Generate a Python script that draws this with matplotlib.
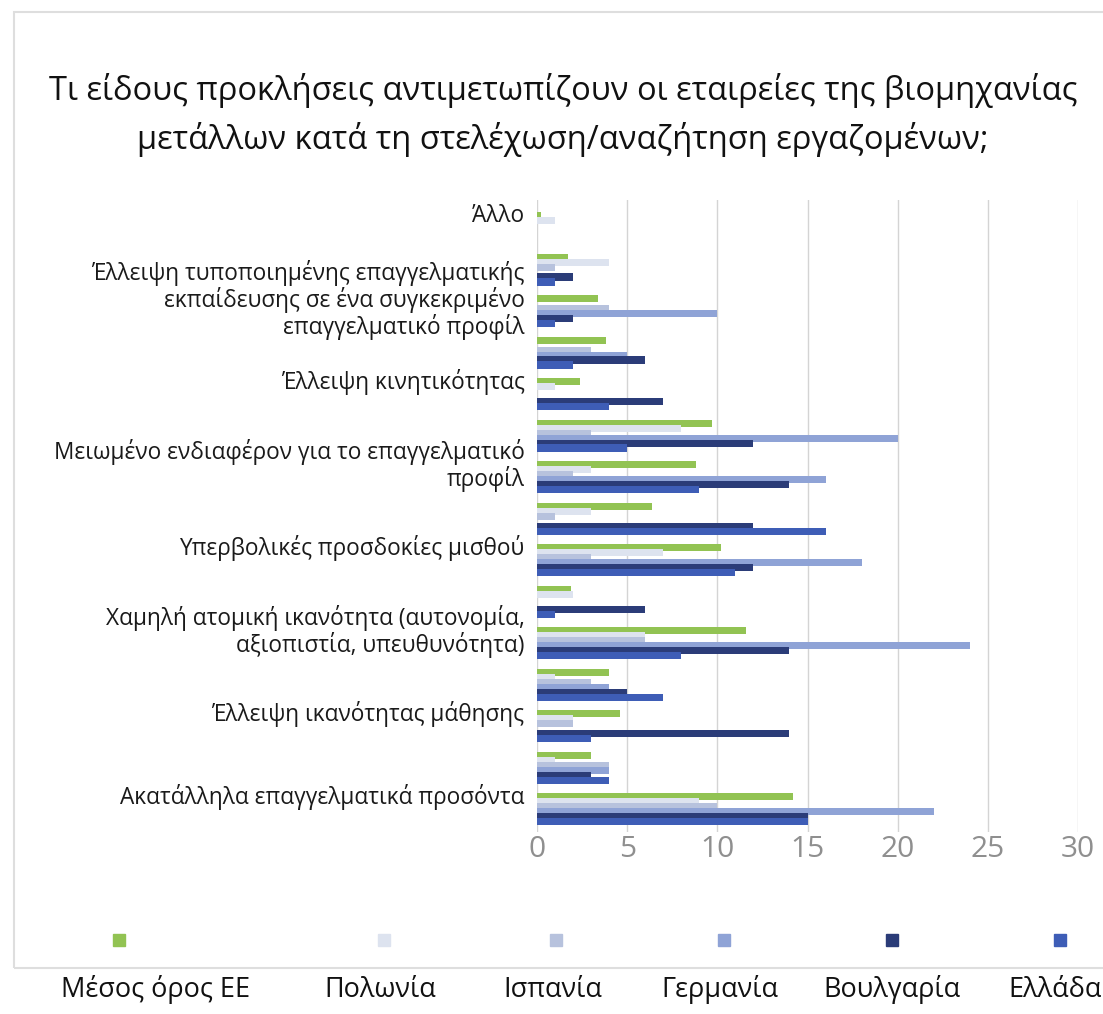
import matplotlib
matplotlib.use('Agg')
import matplotlib.pyplot as plt
import matplotlib.transforms as mtransforms
from matplotlib.patches import Rectangle
import numpy as np

plt.rcParams['font.family'] = ['Open Sans', 'DejaVu Sans']

# categories top to bottom; only every other one gets a label on the axis
labels = ['Άλλο', '',
          'Έλλειψη τυποποιημένης επαγγελματικής\nεκπαίδευσης σε ένα συγκεκριμένο\nεπαγγελματικό προφίλ', '',
          'Έλλειψη κινητικότητας', '',
          'Μειωμένο ενδιαφέρον για το επαγγελματικό\nπροφίλ', '',
          'Υπερβολικές προσδοκίες μισθού', '',
          'Χαμηλή ατομική ικανότητα (αυτονομία,\nαξιοπιστία, υπευθυνότητα)', '',
          'Έλλειψη ικανότητας μάθησης', '',
          'Ακατάλληλα επαγγελματικά προσόντα']

series = ['Μέσος όρος ΕΕ', 'Πολωνία', 'Ισπανία', 'Γερμανία', 'Βουλγαρία', 'Ελλάδα']

eu       = [0.2, 1.7, 3.4, 3.8, 2.4, 9.7, 8.8, 6.4, 10.2, 1.9, 11.6, 4.0, 4.6, 3.0, 14.2]
poland   = [1, 4, 0, 0, 1, 8, 3, 3, 7, 2, 6, 1, 2, 1, 9]
spain    = [0, 1, 4, 3, 0, 3, 2, 1, 3, 0, 6, 3, 2, 4, 10]
germany  = [0, 0, 10, 5, 0, 20, 16, 0, 18, 0, 24, 4, 0, 4, 22]
bulgaria = [0, 2, 2, 6, 7, 12, 14, 12, 12, 6, 14, 5, 14, 3, 15]
greece   = [0, 1, 1, 2, 4, 5, 9, 16, 11, 1, 8, 7, 3, 4, 15]

colors = ['#92c353', '#dde3ef', '#b7c2dd', '#8fa3d6', '#2b3c78', '#3e5db6']

W, H = 1103, 1014
fig = plt.figure(figsize=(W / 100, H / 100), dpi=100)

# outer frame
fig.patches.append(Rectangle((14 / W, 1 - 968 / H), 1.0, (968 - 12) / H,
                             transform=fig.transFigure, fill=False,
                             edgecolor='#dedede', lw=1.5))

fig.text(563 / W, 1 - 115 / H,
         'Τι είδους προκλήσεις αντιμετωπίζουν οι εταιρείες της βιομηχανίας\n'
         'μετάλλων κατά τη στελέχωση/αναζήτηση εργαζομένων;',
         ha='center', va='center', fontsize=23.5, linespacing=1.55, color='#111111')

ax = fig.add_axes([537 / W, 1 - 832 / H, (1078 - 537) / W, (832 - 200) / H])

data = [eu, poland, spain, germany, bulgaria, greece]
y = np.arange(len(labels))
step, h = 0.12, 0.17
for j, (vals, c) in enumerate(zip(data, colors)):
    ax.barh(y - 0.3 + j * step, vals, height=h, color=c, zorder=3 + j)

ax.set_xlim(0, 30)
ax.set_ylim(14.55, -0.675)
ax.set_xticks(range(0, 31, 5))
ax.grid(axis='x', color='#d4d4d4', lw=1, zorder=0)
ax.set_yticks(y[::2])
ax.set_yticklabels(labels[::2], linespacing=1.05)
ax.tick_params(axis='y', length=0, pad=9, labelsize=16.3, labelcolor='#1a1a1a')
ax.tick_params(axis='x', length=0, pad=2, labelsize=21.5, labelcolor='#8f8f8f')
for s in ax.spines.values():
    s.set_visible(False)

# category names sit a little above the middle of their bar group
lift = mtransforms.ScaledTranslation(0, 0.15, fig.dpi_scale_trans)
for t in ax.get_yticklabels():
    t.set_transform(t.get_transform() + lift)

# legend row: markers above, names underneath
marker_x = [119, 384, 556, 724, 892, 1060]
name_x = [156, 380, 553, 720, 892, 1055]
for mx, nx, c, name in zip(marker_x, name_x, colors, series):
    fig.patches.append(Rectangle(((mx - 6) / W, 1 - 946 / H), 12 / W, 12 / H,
                                 transform=fig.transFigure, color=c))
    fig.text(nx / W, 1 - 990 / H, name, ha='center', va='center',
             fontsize=19.5, color='#111111')

plt.savefig('out.png', dpi=100)
